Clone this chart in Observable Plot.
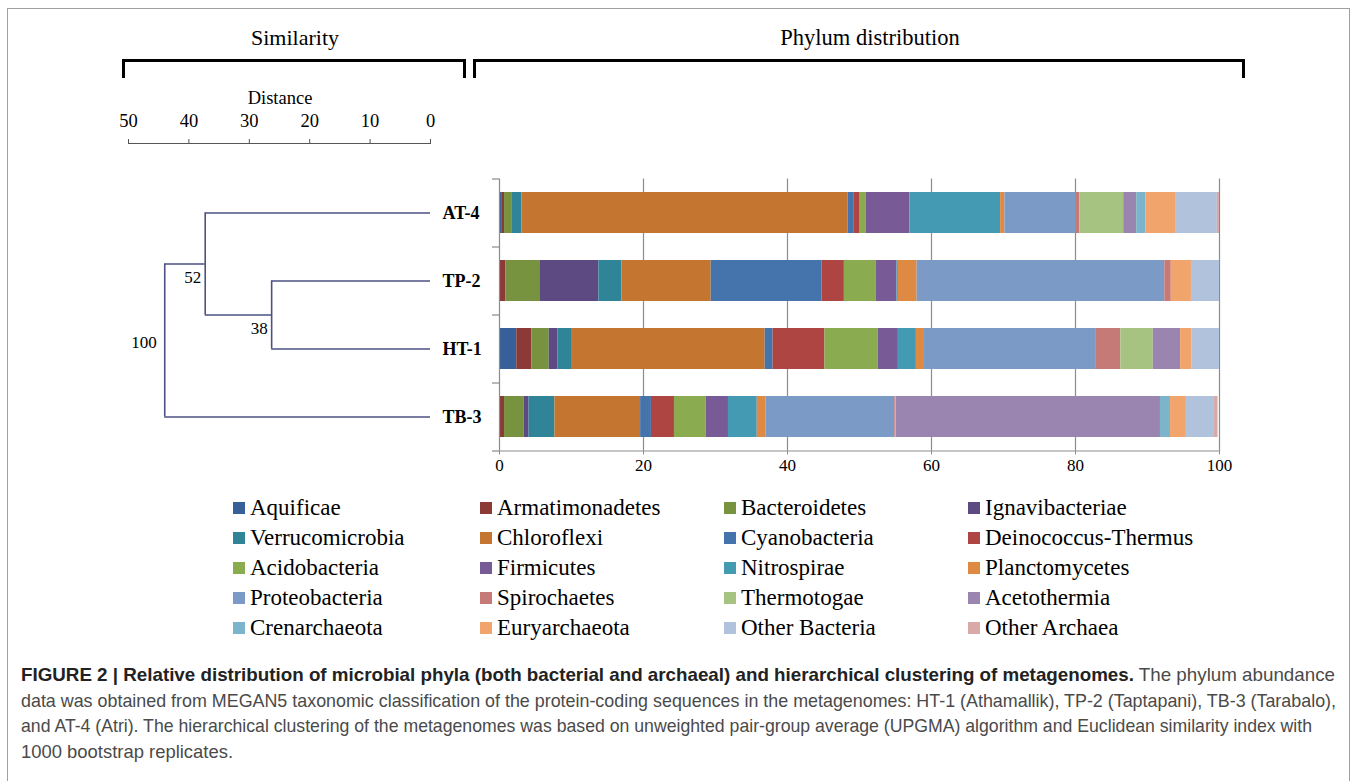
<!DOCTYPE html>
<html><head><meta charset="utf-8">
<script src="https://cdn.jsdelivr.net/npm/d3@7"></script>
<script src="https://cdn.jsdelivr.net/npm/@observablehq/plot@0.6"></script>
<style>
body{margin:0;background:#fff;}
#page{position:relative;width:1357px;height:781px;overflow:hidden;font-family:"Liberation Serif","Times New Roman",serif;color:#000;}
.abs{position:absolute;}
#frame{left:7px;top:8px;width:1343px;height:790px;border:1px solid #a0a0a0;box-sizing:border-box;}
.title{font-size:22px;transform:translate(-50%,-50%);white-space:nowrap;}
.bracket{border:3.5px solid #000;border-bottom:none;box-sizing:border-box;height:19px;}
#legend{left:233px;top:493px;display:grid;grid-template-columns:247px 244px 244px 240px;grid-auto-rows:30px;font-size:23px;}
.item{display:flex;align-items:center;white-space:nowrap;}
.sw{width:12px;height:12px;margin-right:5px;flex:none;}
#caption{left:21px;top:662px;font-family:"Liberation Sans Narrow","Liberation Sans",Arial,sans-serif;font-size:19px;line-height:25.7px;color:#4a4a4a;white-space:nowrap;}
#caption b{color:#222;}
.line{display:inline-block;transform-origin:0 50%;}
svg{overflow:visible;}
svg text{font-family:"Liberation Serif","Times New Roman",serif !important;}
</style></head>
<body><div id="page">
<div id="frame" class="abs"></div>
<div class="abs title" style="left:295px;top:38px;">Similarity</div>
<div class="abs title" style="left:870px;top:38px;font-size:22.5px;">Phylum distribution</div>
<div class="abs bracket" style="left:122px;top:59px;width:344px;"></div>
<div class="abs bracket" style="left:473px;top:59px;width:772px;"></div>
<div class="abs title" style="left:280px;top:98px;font-size:18.5px;">Distance</div>
<div id="tree" class="abs" style="left:0;top:0;"></div>
<div id="bars" class="abs" style="left:460px;top:0;"></div>
<div id="legend" class="abs"></div>
<div id="caption" class="abs">
<div><span class="line" data-w="1314"><b>FIGURE 2 | Relative distribution of microbial phyla (both bacterial and archaeal) and hierarchical clustering of metagenomes.</b> The phylum abundance</span></div>
<div><span class="line" data-w="1315">data was obtained from MEGAN5 taxonomic classification of the protein-coding sequences in the metagenomes: HT-1 (Athamallik), TP-2 (Taptapani), TB-3 (Tarabalo),</span></div>
<div><span class="line" data-w="1291">and AT-4 (Atri). The hierarchical clustering of the metagenomes was based on unweighted pair-group average (UPGMA) algorithm and Euclidean similarity index with</span></div>
<div><span class="line" data-w="212">1000 bootstrap replicates.</span></div>
</div>
</div>
<script>
// ---- data ----
const samples = ["AT-4", "TP-2", "HT-1", "TB-3"];
const phyla = ["Aquificae", "Armatimonadetes", "Bacteroidetes", "Ignavibacteriae",
  "Verrucomicrobia", "Chloroflexi", "Cyanobacteria", "Deinococcus-Thermus",
  "Acidobacteria", "Firmicutes", "Nitrospirae", "Planctomycetes",
  "Proteobacteria", "Spirochaetes", "Thermotogae", "Acetothermia",
  "Crenarchaeota", "Euryarchaeota", "Other Bacteria", "Other Archaea"];
const phylaColors = ["#37609a", "#8b3a36", "#78933f", "#5e4a82",
  "#2f8497", "#c47631", "#4573ab", "#ae4542",
  "#8aab4f", "#775a96", "#449ab2", "#df8a43",
  "#7b9bc6", "#c67a78", "#a7c381", "#9a84b0",
  "#7cb5cb", "#f2a46d", "#b1c2dc", "#d8a9a7"];
const at4 = [0.4, 0.3, 1.0, 0.0, 1.4, 45.3, 0.8, 0.8, 0.9, 6.1, 12.6, 0.6, 9.9, 0.5, 6.1, 1.8, 1.3, 4.2, 5.7, 0.3];
const tp2 = [0.0, 0.9, 4.7, 8.2, 3.2, 12.4, 15.4, 3.1, 4.4, 2.9, 0.2, 2.6, 34.4, 0.9, 0.0, 0.0, 0.0, 2.8, 3.9, 0.0];
const ht1 = [2.4, 2.1, 2.4, 1.2, 1.9, 26.9, 1.1, 7.2, 7.4, 2.8, 2.5, 1.0, 24.0, 3.4, 4.5, 3.8, 0.0, 1.6, 3.8, 0.0];
const tb3 = [0.0, 0.7, 2.7, 0.7, 3.6, 11.9, 1.5, 3.2, 4.4, 3.1, 4.0, 1.2, 17.9, 0.1, 0.1, 36.7, 1.4, 2.2, 3.9, 0.5];
const percentTicks = [0, 20, 40, 60, 80, 100];
const distanceTicks = [50, 40, 30, 20, 10, 0];
// UPGMA merges: [childA, childB, distance, bootstrap]
const merges = [
  {a: "TP-2", b: "HT-1", dist: 26.3, support: "38"},
  {a: "AT-4", b: "#1", dist: 37.3, support: "52"},
  {a: "#2", b: "TB-3", dist: 44.0, support: "100"}
];

const serif = "Liberation Serif, Times New Roman, serif";
const lineColor = "#4d5182";

// ---- dendrogram ----
const pos = {};
samples.forEach((s, i) => pos[s] = {y: i, dist: 0});
const verticals = [], horizontals = [], supports = [];
merges.forEach((m, k) => {
  const A = pos[m.a], B = pos[m.b];
  const node = {y: (A.y + B.y) / 2, dist: m.dist};
  pos["#" + (k + 1)] = node;
  verticals.push({x: m.dist, y1: A.y, y2: B.y});
  horizontals.push({y: A.y, x1: A.dist, x2: m.dist}, {y: B.y, x1: B.dist, x2: m.dist});
  supports.push({x: m.dist, y: node.y, text: m.support, root: k === merges.length - 1});
});

const tree = Plot.plot({
  width: 500, height: 470,
  marginLeft: 128, marginRight: 70, marginTop: 143, marginBottom: 20,
  style: {background: "transparent", fontFamily: serif, overflow: "visible"},
  x: {domain: [50, 0], label: null},
  y: {domain: [0, samples.length - 1], range: [212.5, 416.5], axis: null},
  marks: [
    Plot.frame({anchor: "top", stroke: "#555"}),
    Plot.axisX({anchor: "top", ticks: distanceTicks, tickSize: 5, tickPadding: 12, fontSize: 18.5, fontFamily: serif, stroke: "#555", fill: "#000", label: null, tickFormat: d => d}),
    Plot.ruleX(verticals, {x: "x", y1: "y1", y2: "y2", stroke: lineColor, strokeWidth: 1.6}),
    Plot.ruleY(horizontals, {y: "y", x1: "x1", x2: "x2", stroke: lineColor, strokeWidth: 1.6}),
    Plot.text(samples, {x: () => 0, y: (d, i) => i, text: d => d, textAnchor: "start", dx: 12, fontWeight: "bold", fontSize: 18, fontFamily: serif}),
    Plot.text(supports.filter(d => !d.root), {x: "x", y: "y", text: "text", textAnchor: "end", dx: -4, dy: 14, fontSize: 17, fontFamily: serif}),
    Plot.text(supports.filter(d => d.root), {x: "x", y: "y", text: "text", textAnchor: "end", dx: -8, dy: 2, fontSize: 17, fontFamily: serif})
  ]
});
document.getElementById("tree").appendChild(tree);

// ---- stacked bars ----
const valuesBySample = [at4, tp2, ht1, tb3];
const rows = [];
samples.forEach((s, i) => phyla.forEach((p, j) => rows.push({sample: s, phylum: p, value: valuesBySample[i][j]})));

const bars = Plot.plot({
  width: 800, height: 490,
  marginLeft: 39, marginRight: 41, marginTop: 178.5, marginBottom: 39.5,
  style: {background: "transparent", fontFamily: serif, overflow: "visible"},
  x: {domain: [0, 100], label: null},
  y: {domain: samples, paddingInner: 0.4, paddingOuter: 0.2, axis: null},
  color: {domain: phyla, range: phylaColors},
  marks: [
    Plot.ruleX(percentTicks.slice(1), {stroke: "#8c8c8c", strokeWidth: 1.2}),
    Plot.barX(rows, Plot.stackX({x: "value", y: "sample", fill: "phylum"})),
    Plot.ruleX([0], {stroke: "#8c8c8c", strokeWidth: 1.2}),
    Plot.ruleY(samples, {y: d => d, x1: 0, x2: 0, dy: -34, insetLeft: -7, stroke: "#8c8c8c", strokeWidth: 1.2}),
    Plot.ruleY(samples.slice(-1), {y: d => d, x1: 0, x2: 0, dy: 34, insetLeft: -7, stroke: "#8c8c8c", strokeWidth: 1.2}),
    Plot.frame({anchor: "bottom", stroke: "#8c8c8c", strokeWidth: 1.2}),
    Plot.axisX({anchor: "bottom", ticks: percentTicks, tickSize: 4, tickPadding: 4, fontSize: 17, fontFamily: serif, stroke: "#8c8c8c", fill: "#000", label: null})
  ]
});
document.getElementById("bars").appendChild(bars);

// ---- legend ----
const legend = document.getElementById("legend");
phyla.forEach((p, i) => {
  const item = document.createElement("div");
  item.className = "item";
  item.innerHTML = `<span class="sw" style="background:${phylaColors[i]}"></span><span>${p}</span>`;
  legend.appendChild(item);
});

// ---- caption: condense each line to the reference line width ----
document.querySelectorAll("#caption .line").forEach(el => {
  const w = el.getBoundingClientRect().width;
  el.style.transform = `scaleX(${(+el.dataset.w) / w})`;
});
</script>
</body></html>
